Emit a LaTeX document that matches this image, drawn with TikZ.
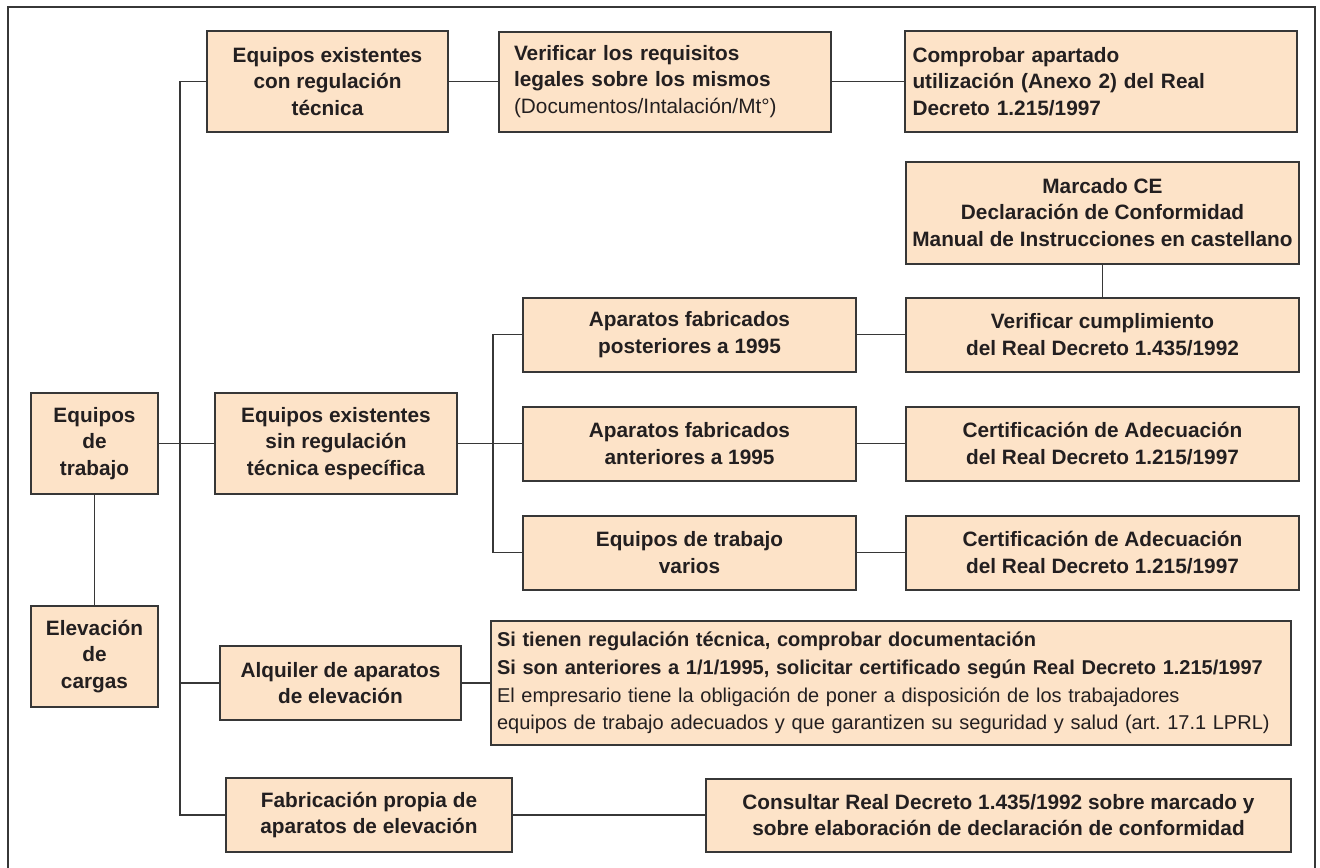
\documentclass[tikz,border=0pt]{standalone}
\usepackage{fontspec}
\setmainfont{Liberation Sans}
\usetikzlibrary{positioning}
\definecolor{boxfill}{RGB}{253,227,200}
\definecolor{boxline}{RGB}{55,55,55}
\definecolor{txt}{RGB}{35,31,32}

\begin{document}
\begin{tikzpicture}[x=0.5pt,y=-0.5pt,
  box/.style={draw=boxline,line width=1pt,fill=boxfill,text=txt,align=center,
              inner sep=0pt,font=\fontsize{10.4}{13.3}\selectfont\bfseries},
  lbox/.style={box,align=left},
  conn/.style={draw=boxline,line width=0.8pt},
  frame/.style={draw=boxline,line width=1pt}]
\useasboundingbox (0,0) rectangle (1320,867);
\draw[frame] (8,880) -- (8,7) -- (1314.5,7) -- (1314.5,880);

% main column
\node[box,minimum width=63.5pt,minimum height=50.5pt] (eqtrab) at (94.5,443.5)
  {Equipos\\de\\trabajo};
\node[box,minimum width=63.5pt,minimum height=50.5pt,below=55pt of eqtrab] (elev)
  {Elevación\\de\\cargas};

% branches
\node[box,minimum width=120.5pt,minimum height=50.5pt] (conreg) at (327.5,81.5)
  {Equipos existentes\\con regulación\\técnica};
\node[lbox,text width=151pt,inner xsep=7.5pt,minimum height=50pt,right=24.5pt of conreg] (verif)
  {Verificar los requisitos\\legales sobre los mismos\\\mdseries(Documentos/Intalación/Mt°)};
\node[lbox,text width=188.5pt,inner xsep=3.75pt,minimum height=50.5pt,right=36pt of verif] (compr)
  {Comprobar apartado\\utilización (Anexo 2) del Real\\Decreto 1.215/1997};

\node[box,minimum width=121pt,minimum height=50.5pt,right=27.5pt of eqtrab] (sinreg)
  {Equipos existentes\\sin regulación\\técnica específica};
\node[box,minimum width=166.5pt,minimum height=37pt,right=32pt of sinreg] (ant)
  {Aparatos fabricados\\anteriores a 1995};
\node[box,minimum width=166.5pt,minimum height=37pt,above=16.5pt of ant] (post)
  {Aparatos fabricados\\posteriores a 1995};
\node[box,minimum width=166.5pt,minimum height=37pt,below=16.5pt of ant] (varios)
  {Equipos de trabajo\\varios};
\node[box,minimum width=196.5pt,minimum height=37pt,right=24pt of post] (vcumpl)
  {Verificar cumplimiento\\del Real Decreto 1.435/1992};
\node[box,minimum width=196.5pt,minimum height=37pt,right=24pt of ant] (cert1)
  {Certificación de Adecuación\\del Real Decreto 1.215/1997};
\node[box,minimum width=196.5pt,minimum height=37pt,right=24pt of varios] (cert2)
  {Certificación de Adecuación\\del Real Decreto 1.215/1997};
\node[box,minimum width=196.5pt,minimum height=51pt,above=16pt of vcumpl] (marcado)
  {Marcado CE\\Declaración de Conformidad\\Manual de Instrucciones en castellano};

\node[box,minimum width=120.5pt,minimum height=37pt] (alq) at (340.5,683)
  {Alquiler de aparatos\\de elevación};
\node[lbox,text width=394pt,inner xsep=3pt,minimum height=62pt,right=14pt of alq,
      font=\fontsize{10}{13.8}\selectfont] (alqtxt)
  {\textbf{Si tienen regulación técnica, comprobar documentación}\\
   \textbf{Si son anteriores a 1/1/1995, solicitar certificado según Real Decreto 1.215/1997}\\
   El empresario tiene la obligación de poner a disposición de los trabajadores\\
   equipos de trabajo adecuados y que garantizen su seguridad y salud (art.\ 17.1 LPRL)};

\node[box,minimum width=143pt,minimum height=37pt] (fabric) at (369,815)
  {Fabricación propia de\\aparatos de elevación};
\node[box,minimum width=292.5pt,minimum height=36.5pt,right=96pt of fabric] (consult)
  {Consultar Real Decreto 1.435/1992 sobre marcado y\\sobre elaboración de declaración de conformidad};

% connectors
\coordinate (spine) at (180,0);
\coordinate (spine2) at (493,0);
\draw[conn] (conreg.west) -- (conreg.west -| spine) |- (fabric.west);
\draw[conn] (alq.west -| spine) -- (alq.west);
\draw[conn] (eqtrab.east) -- (sinreg.west);
\draw[conn] (eqtrab.south) -- (elev.north);
\draw[conn] (sinreg.east) -- (ant.west);
\draw[conn] (post.west) -- (post.west -| spine2) |- (varios.west);
\draw[conn] (conreg.east) -- (verif.west);
\draw[conn] (verif.east) -- (compr.west);
\draw[conn] (marcado.south) -- (vcumpl.north);
\draw[conn] (post.east) -- (vcumpl.west);
\draw[conn] (ant.east) -- (cert1.west);
\draw[conn] (varios.east) -- (cert2.west);
\draw[conn] (alq.east) -- (alqtxt.west);
\draw[conn] (fabric.east) -- (consult.west);
\end{tikzpicture}
\end{document}
